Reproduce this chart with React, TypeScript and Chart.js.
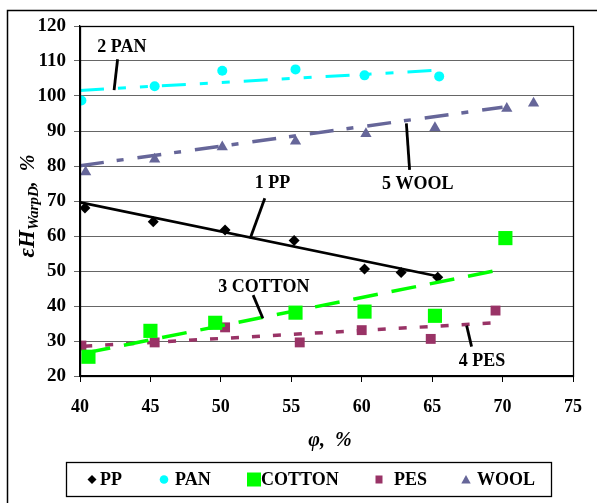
import React, { useEffect, useRef } from 'react';
import { Chart, registerables } from 'chart.js';
Chart.register(...registerables);

const FONT = '"Liberation Serif", "Times New Roman", serif';

// ---- data ----
const ppX = [40.35, 45.2, 50.3, 55.2, 60.2, 62.8, 65.4];
const ppY = [68.0, 64.1, 61.7, 58.7, 50.6, 49.6, 48.2];
const panX = [40.1, 45.3, 50.1, 55.3, 60.2, 65.5];
const panY = [98.7, 102.8, 107.2, 107.6, 105.9, 105.6];
const cottonX = [40.6, 45.0, 49.6, 55.3, 60.2, 65.2, 70.2];
const cottonY = [25.5, 32.9, 35.2, 38.1, 38.4, 37.2, 59.4];
const pesX = [40.1, 45.3, 50.3, 55.6, 60.0, 64.9, 69.5];
const pesY = [28.7, 29.6, 33.9, 29.6, 33.1, 30.6, 38.7];
const woolX = [40.4, 45.3, 50.1, 55.3, 60.3, 65.2, 70.3, 72.2];
const woolY = [78.3, 81.9, 85.4, 87.1, 89.2, 90.9, 96.4, 97.9];

// trend lines (start / end)
const ppTrendX = [40, 65.4];
const ppTrendY = [69.6, 48.5];
const panTrendX = [40, 65.5];
const panTrendY = [101.6, 107.4];
const cottonTrendX = [40.4, 70];
const cottonTrendY = [26.6, 50.5];
const pesTrendX = [40.3, 69.5];
const pesTrendY = [28.5, 35.2];
const woolTrendX = [40, 70];
const woolTrendY = [80.1, 96.8];

const seriesNames = ['PP', 'PAN', 'COTTON', 'PES', 'WOOL'];
const xTicks = [40, 45, 50, 55, 60, 65, 70, 75];

// curve labels: text, label position, leader start, leader end (data units)
const labelTexts = ['2 PAN', '1 PP', '5 WOOL', '3 COTTON', '4 PES'];
const labelPos = [[42.97, 114], [53.67, 75.1], [63.97, 74.8], [53.05, 45.3], [68.54, 24.1]];
const leaderFrom = [[42.67, 110.5], [53.12, 70.8], [63.17, 92.2], [52.29, 43.1], [67.45, 34.4]];
const leaderTo = [[42.42, 101.7], [52.08, 59.3], [63.4, 78.9], [52.98, 36.5], [67.8, 28.4]];

const pts = (xs: number[], ys: number[]) => xs.map((x, i) => ({ x, y: ys[i] }));

const COLORS: Record<string, string> = {
  PP: '#000000',
  PAN: '#00FFFF',
  COTTON: '#00FF00',
  PES: '#993366',
  WOOL: '#666699',
};

function drawMarker(ctx: CanvasRenderingContext2D, kind: string, x: number, y: number) {
  ctx.save();
  ctx.beginPath();
  ctx.fillStyle = COLORS[kind];
  if (kind === 'PP') {
    ctx.moveTo(x - 4.5, y); ctx.lineTo(x, y - 4.5); ctx.lineTo(x + 4.5, y); ctx.lineTo(x, y + 4.5);
  } else if (kind === 'PAN') {
    ctx.arc(x, y, 4.3, 0, Math.PI * 2);
  } else if (kind === 'COTTON') {
    ctx.rect(x - 7, y - 7, 14, 14);
  } else if (kind === 'PES') {
    ctx.rect(x - 3.5, y - 4, 7, 8);
  } else {
    ctx.moveTo(x, y - 4.5); ctx.lineTo(x + 4.7, y + 4); ctx.lineTo(x - 4.7, y + 4);
  }
  ctx.closePath();
  ctx.fill();
  ctx.restore();
}

const overlay = {
  id: 'overlay',
  afterDraw(chart: any) {
    const ctx: CanvasRenderingContext2D = chart.ctx;
    const { left, top, right, bottom } = chart.chartArea;
    const xs = chart.scales.x;
    const ys = chart.scales.y;
    ctx.save();
    // plot border
    ctx.strokeStyle = '#000';
    ctx.lineWidth = 1.3;
    ctx.strokeRect(left + 0.5, top + 0.5, right - left, bottom - top);
    // outer frame
    ctx.lineWidth = 1.5;
    ctx.strokeRect(7.5, 10.5, 700, 700);

    // curve labels with leader lines
    ctx.fillStyle = '#000';
    ctx.font = `bold 18px ${FONT}`;
    ctx.textAlign = 'center';
    ctx.textBaseline = 'middle';
    labelTexts.forEach((t, i) => {
      ctx.fillText(t, xs.getPixelForValue(labelPos[i][0]), ys.getPixelForValue(labelPos[i][1]));
      ctx.beginPath();
      ctx.lineWidth = 2.8;
      ctx.moveTo(xs.getPixelForValue(leaderFrom[i][0]), ys.getPixelForValue(leaderFrom[i][1]));
      ctx.lineTo(xs.getPixelForValue(leaderTo[i][0]), ys.getPixelForValue(leaderTo[i][1]));
      ctx.stroke();
    });

    // x title
    ctx.font = `bold italic 20px ${FONT}`;
    ctx.textAlign = 'center';
    ctx.fillText('\u03C6,  %', 330, 441);

    // y title (rotated)
    ctx.save();
    ctx.translate(27, 206);
    ctx.rotate(-Math.PI / 2);
    ctx.textAlign = 'left';
    ctx.textBaseline = 'alphabetic';
    const segs: [string, string, number][] = [
      ['\u03B5H', `bold italic 23px ${FONT}`, 0],
      ['WarpD', `bold italic 15px ${FONT}`, 4],
      [',  %', `bold italic 20px ${FONT}`, 0],
    ];
    let total = 0;
    segs.forEach(([t, f]) => { ctx.font = f; total += ctx.measureText(t).width; });
    let cx = -total / 2;
    segs.forEach(([t, f, dy]) => {
      ctx.font = f;
      ctx.fillText(t, cx, 7 + dy);
      cx += ctx.measureText(t).width;
    });
    ctx.restore();

    // legend
    ctx.lineWidth = 1.3;
    ctx.strokeRect(66.5, 462.5, 485, 34);
    ctx.font = `bold 18px ${FONT}`;
    ctx.textAlign = 'left';
    ctx.textBaseline = 'middle';
    const markerX = [92, 164, 254, 379, 466];
    const textX = [100, 175, 261, 394, 477];
    seriesNames.forEach((n, i) => {
      drawMarker(ctx, n, markerX[i], 479.5);
      ctx.fillStyle = '#000';
      ctx.fillText(n, textX[i], 480.5);
    });
    ctx.restore();
  },
};

export default function App() {
  const ref = useRef<HTMLCanvasElement>(null);
  useEffect(() => {
    if (!ref.current) return;
    const chart = new Chart(ref.current, {
      type: 'scatter',
      data: {
        datasets: [
          { label: 'PP trend', data: pts(ppTrendX, ppTrendY), showLine: true, borderColor: COLORS.PP, borderWidth: 2.8, pointRadius: 0 },
          { label: 'PAN trend', data: pts(panTrendX, panTrendY), showLine: true, borderColor: COLORS.PAN, borderWidth: 3, borderDash: [24, 14, 8, 14, 8, 14], pointRadius: 0 },
          { label: 'COTTON trend', data: pts(cottonTrendX, cottonTrendY), showLine: true, borderColor: COLORS.COTTON, borderWidth: 3.5, borderDash: [25, 14], pointRadius: 0 },
          { label: 'PES trend', data: pts(pesTrendX, pesTrendY), showLine: true, borderColor: COLORS.PES, borderWidth: 3.5, borderDash: [8, 13], pointRadius: 0 },
          { label: 'WOOL trend', data: pts(woolTrendX, woolTrendY), showLine: true, borderColor: COLORS.WOOL, borderWidth: 3.5, borderDash: [24, 13, 7, 14], pointRadius: 0 },
          { label: 'PP', data: pts(ppX, ppY), pointStyle: 'rectRot', pointRadius: 5.5, backgroundColor: COLORS.PP, borderColor: COLORS.PP, borderWidth: 0 },
          { label: 'PAN', data: pts(panX, panY), pointStyle: 'circle', pointRadius: 5, backgroundColor: COLORS.PAN, borderColor: COLORS.PAN, borderWidth: 0 },
          { label: 'COTTON', data: pts(cottonX, cottonY), pointStyle: 'rect', pointRadius: 10, backgroundColor: COLORS.COTTON, borderColor: COLORS.COTTON, borderWidth: 0 },
          { label: 'PES', data: pts(pesX, pesY), pointStyle: 'rect', pointRadius: 7, backgroundColor: COLORS.PES, borderColor: COLORS.PES, borderWidth: 0 },
          { label: 'WOOL', data: pts(woolX, woolY), pointStyle: 'triangle', pointRadius: 6.5, backgroundColor: COLORS.WOOL, borderColor: COLORS.WOOL, borderWidth: 0 },
        ],
      },
      options: {
        animation: false,
        responsive: false,
        devicePixelRatio: 1,
        layout: { padding: { left: 0, top: 26, right: 10, bottom: 87 } },
        plugins: { legend: { display: false }, tooltip: { enabled: false } },
        scales: {
          x: {
            type: 'linear',
            min: 40,
            max: 75,
            afterBuildTicks: (s: any) => { s.ticks = xTicks.map((v) => ({ value: v })); },
            afterFit: (s: any) => { s.height = 40; },
            ticks: { color: '#000', font: { family: FONT, size: 18, weight: 'bold' }, padding: 15, maxRotation: 0 },
            grid: { drawOnChartArea: false, color: '#000', tickLength: 6, lineWidth: 1 },
            border: { color: '#000', width: 1.3 },
          },
          y: {
            min: 20,
            max: 120,
            afterFit: (s: any) => { s.width = 80; },
            ticks: { stepSize: 10, color: '#000', font: { family: FONT, size: 19, weight: 'bold' }, padding: 8 },
            grid: { color: '#666', lineWidth: 1, tickLength: 6, drawTicks: true },
            border: { color: '#000', width: 1.3 },
          },
        },
      },
      plugins: [overlay],
    } as any);
    return () => chart.destroy();
  }, []);
  return (
    <div style={{ position: 'absolute', left: 0, top: 0, width: 597, height: 503, background: '#fff' }}>
      <canvas ref={ref} width={597} height={503} style={{ width: 597, height: 503, display: 'block' }} />
    </div>
  );
}
